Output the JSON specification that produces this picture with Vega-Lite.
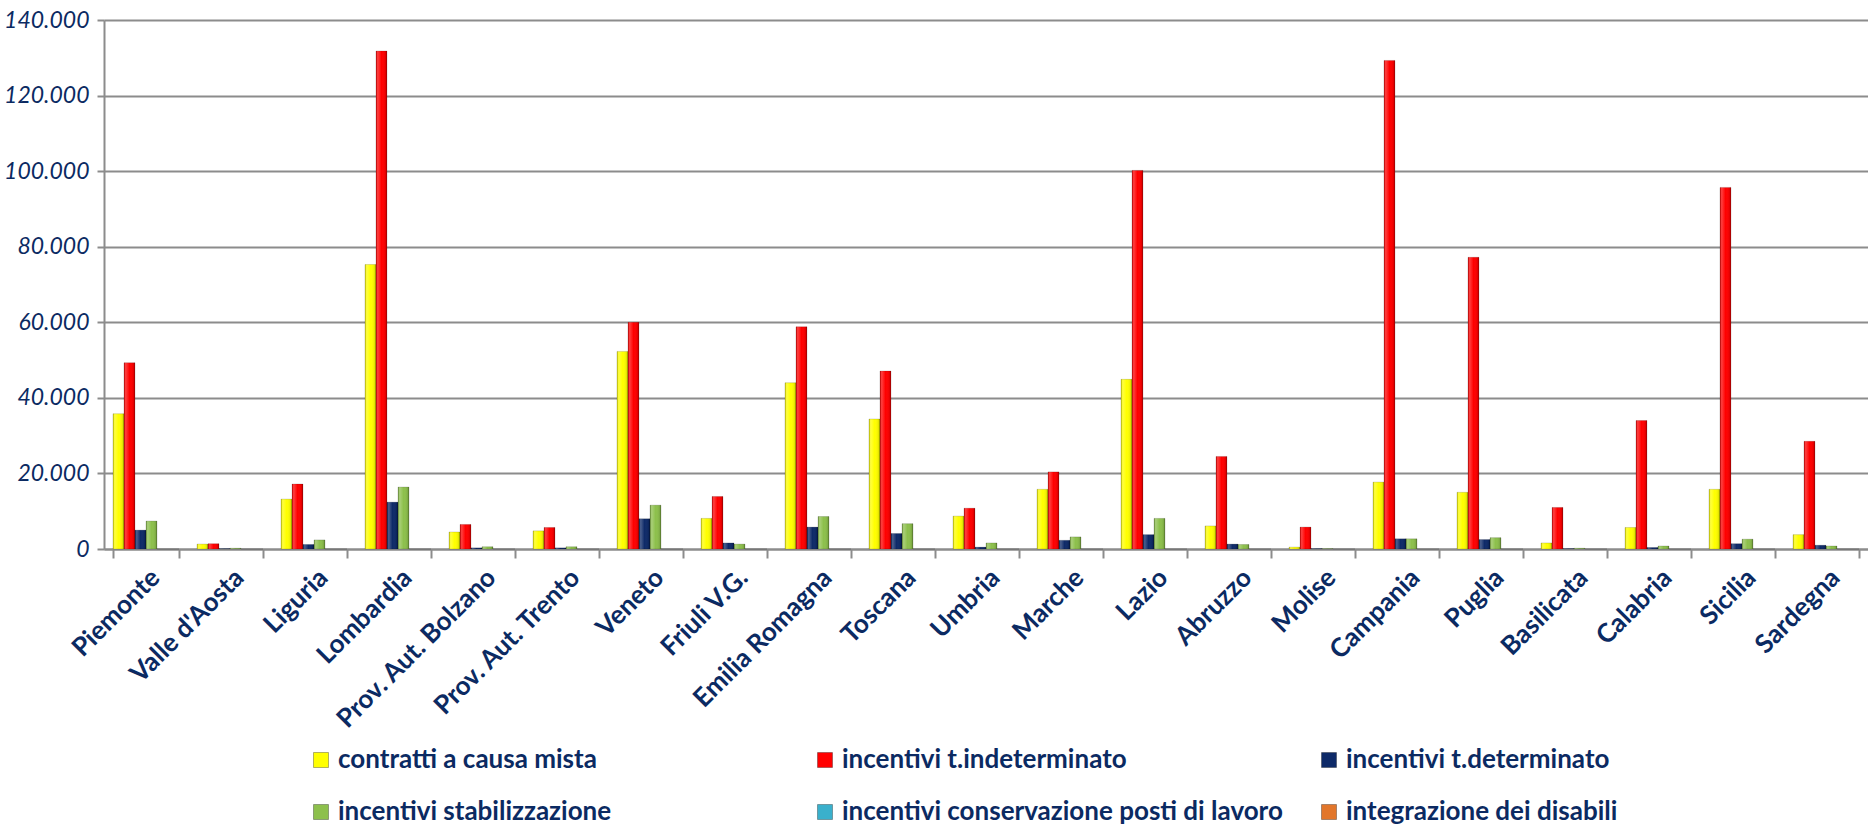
{
  "$schema": "https://vega.github.io/schema/vega-lite/v6.json",
  "width": 1764,
  "height": 529,
  "autosize": {"type": "none"},
  "padding": {"left": 104, "top": 20, "right": 0, "bottom": 278},
  "background": "white",
  "config": {
    "locale": {"number": {"decimal": ",", "thousands": ".", "grouping": [3], "currency": ["€", ""]}},
    "view": {"stroke": null},
    "font": "Lato"
  },
  "data": {"values": [
    {"regione": "Piemonte", "serie": "contratti a causa mista", "valore": 35800},
    {"regione": "Piemonte", "serie": "incentivi t.indeterminato", "valore": 49300},
    {"regione": "Piemonte", "serie": "incentivi t.determinato", "valore": 5000},
    {"regione": "Piemonte", "serie": "incentivi stabilizzazione", "valore": 7400},
    {"regione": "Piemonte", "serie": "incentivi conservazione posti di lavoro", "valore": 0},
    {"regione": "Piemonte", "serie": "integrazione dei disabili", "valore": 0},
    {"regione": "Valle d'Aosta", "serie": "contratti a causa mista", "valore": 1300},
    {"regione": "Valle d'Aosta", "serie": "incentivi t.indeterminato", "valore": 1400},
    {"regione": "Valle d'Aosta", "serie": "incentivi t.determinato", "valore": 100},
    {"regione": "Valle d'Aosta", "serie": "incentivi stabilizzazione", "valore": 200},
    {"regione": "Valle d'Aosta", "serie": "incentivi conservazione posti di lavoro", "valore": 0},
    {"regione": "Valle d'Aosta", "serie": "integrazione dei disabili", "valore": 0},
    {"regione": "Liguria", "serie": "contratti a causa mista", "valore": 13200},
    {"regione": "Liguria", "serie": "incentivi t.indeterminato", "valore": 17200},
    {"regione": "Liguria", "serie": "incentivi t.determinato", "valore": 1200},
    {"regione": "Liguria", "serie": "incentivi stabilizzazione", "valore": 2400},
    {"regione": "Liguria", "serie": "incentivi conservazione posti di lavoro", "valore": 0},
    {"regione": "Liguria", "serie": "integrazione dei disabili", "valore": 0},
    {"regione": "Lombardia", "serie": "contratti a causa mista", "valore": 75300},
    {"regione": "Lombardia", "serie": "incentivi t.indeterminato", "valore": 131800},
    {"regione": "Lombardia", "serie": "incentivi t.determinato", "valore": 12400},
    {"regione": "Lombardia", "serie": "incentivi stabilizzazione", "valore": 16400},
    {"regione": "Lombardia", "serie": "incentivi conservazione posti di lavoro", "valore": 0},
    {"regione": "Lombardia", "serie": "integrazione dei disabili", "valore": 0},
    {"regione": "Prov. Aut. Bolzano", "serie": "contratti a causa mista", "valore": 4500},
    {"regione": "Prov. Aut. Bolzano", "serie": "incentivi t.indeterminato", "valore": 6500},
    {"regione": "Prov. Aut. Bolzano", "serie": "incentivi t.determinato", "valore": 300},
    {"regione": "Prov. Aut. Bolzano", "serie": "incentivi stabilizzazione", "valore": 600},
    {"regione": "Prov. Aut. Bolzano", "serie": "incentivi conservazione posti di lavoro", "valore": 0},
    {"regione": "Prov. Aut. Bolzano", "serie": "integrazione dei disabili", "valore": 0},
    {"regione": "Prov. Aut. Trento", "serie": "contratti a causa mista", "valore": 4800},
    {"regione": "Prov. Aut. Trento", "serie": "incentivi t.indeterminato", "valore": 5700},
    {"regione": "Prov. Aut. Trento", "serie": "incentivi t.determinato", "valore": 300},
    {"regione": "Prov. Aut. Trento", "serie": "incentivi stabilizzazione", "valore": 600},
    {"regione": "Prov. Aut. Trento", "serie": "incentivi conservazione posti di lavoro", "valore": 0},
    {"regione": "Prov. Aut. Trento", "serie": "integrazione dei disabili", "valore": 0},
    {"regione": "Veneto", "serie": "contratti a causa mista", "valore": 52300},
    {"regione": "Veneto", "serie": "incentivi t.indeterminato", "valore": 60000},
    {"regione": "Veneto", "serie": "incentivi t.determinato", "valore": 8000},
    {"regione": "Veneto", "serie": "incentivi stabilizzazione", "valore": 11600},
    {"regione": "Veneto", "serie": "incentivi conservazione posti di lavoro", "valore": 0},
    {"regione": "Veneto", "serie": "integrazione dei disabili", "valore": 0},
    {"regione": "Friuli V.G.", "serie": "contratti a causa mista", "valore": 8100},
    {"regione": "Friuli V.G.", "serie": "incentivi t.indeterminato", "valore": 13900},
    {"regione": "Friuli V.G.", "serie": "incentivi t.determinato", "valore": 1600},
    {"regione": "Friuli V.G.", "serie": "incentivi stabilizzazione", "valore": 1300},
    {"regione": "Friuli V.G.", "serie": "incentivi conservazione posti di lavoro", "valore": 0},
    {"regione": "Friuli V.G.", "serie": "integrazione dei disabili", "valore": 0},
    {"regione": "Emilia Romagna", "serie": "contratti a causa mista", "valore": 44000},
    {"regione": "Emilia Romagna", "serie": "incentivi t.indeterminato", "valore": 58800},
    {"regione": "Emilia Romagna", "serie": "incentivi t.determinato", "valore": 5800},
    {"regione": "Emilia Romagna", "serie": "incentivi stabilizzazione", "valore": 8600},
    {"regione": "Emilia Romagna", "serie": "incentivi conservazione posti di lavoro", "valore": 0},
    {"regione": "Emilia Romagna", "serie": "integrazione dei disabili", "valore": 0},
    {"regione": "Toscana", "serie": "contratti a causa mista", "valore": 34400},
    {"regione": "Toscana", "serie": "incentivi t.indeterminato", "valore": 47100},
    {"regione": "Toscana", "serie": "incentivi t.determinato", "valore": 4100},
    {"regione": "Toscana", "serie": "incentivi stabilizzazione", "valore": 6700},
    {"regione": "Toscana", "serie": "incentivi conservazione posti di lavoro", "valore": 0},
    {"regione": "Toscana", "serie": "integrazione dei disabili", "valore": 0},
    {"regione": "Umbria", "serie": "contratti a causa mista", "valore": 8700},
    {"regione": "Umbria", "serie": "incentivi t.indeterminato", "valore": 10800},
    {"regione": "Umbria", "serie": "incentivi t.determinato", "valore": 500},
    {"regione": "Umbria", "serie": "incentivi stabilizzazione", "valore": 1600},
    {"regione": "Umbria", "serie": "incentivi conservazione posti di lavoro", "valore": 0},
    {"regione": "Umbria", "serie": "integrazione dei disabili", "valore": 0},
    {"regione": "Marche", "serie": "contratti a causa mista", "valore": 15800},
    {"regione": "Marche", "serie": "incentivi t.indeterminato", "valore": 20400},
    {"regione": "Marche", "serie": "incentivi t.determinato", "valore": 2300},
    {"regione": "Marche", "serie": "incentivi stabilizzazione", "valore": 3200},
    {"regione": "Marche", "serie": "incentivi conservazione posti di lavoro", "valore": 0},
    {"regione": "Marche", "serie": "integrazione dei disabili", "valore": 0},
    {"regione": "Lazio", "serie": "contratti a causa mista", "valore": 44900},
    {"regione": "Lazio", "serie": "incentivi t.indeterminato", "valore": 100200},
    {"regione": "Lazio", "serie": "incentivi t.determinato", "valore": 3800},
    {"regione": "Lazio", "serie": "incentivi stabilizzazione", "valore": 8100},
    {"regione": "Lazio", "serie": "incentivi conservazione posti di lavoro", "valore": 0},
    {"regione": "Lazio", "serie": "integrazione dei disabili", "valore": 0},
    {"regione": "Abruzzo", "serie": "contratti a causa mista", "valore": 6100},
    {"regione": "Abruzzo", "serie": "incentivi t.indeterminato", "valore": 24500},
    {"regione": "Abruzzo", "serie": "incentivi t.determinato", "valore": 1300},
    {"regione": "Abruzzo", "serie": "incentivi stabilizzazione", "valore": 1200},
    {"regione": "Abruzzo", "serie": "incentivi conservazione posti di lavoro", "valore": 0},
    {"regione": "Abruzzo", "serie": "integrazione dei disabili", "valore": 0},
    {"regione": "Molise", "serie": "contratti a causa mista", "valore": 500},
    {"regione": "Molise", "serie": "incentivi t.indeterminato", "valore": 5800},
    {"regione": "Molise", "serie": "incentivi t.determinato", "valore": 100},
    {"regione": "Molise", "serie": "incentivi stabilizzazione", "valore": 100},
    {"regione": "Molise", "serie": "incentivi conservazione posti di lavoro", "valore": 0},
    {"regione": "Molise", "serie": "integrazione dei disabili", "valore": 0},
    {"regione": "Campania", "serie": "contratti a causa mista", "valore": 17700},
    {"regione": "Campania", "serie": "incentivi t.indeterminato", "valore": 129300},
    {"regione": "Campania", "serie": "incentivi t.determinato", "valore": 2700},
    {"regione": "Campania", "serie": "incentivi stabilizzazione", "valore": 2700},
    {"regione": "Campania", "serie": "incentivi conservazione posti di lavoro", "valore": 0},
    {"regione": "Campania", "serie": "integrazione dei disabili", "valore": 0},
    {"regione": "Puglia", "serie": "contratti a causa mista", "valore": 15000},
    {"regione": "Puglia", "serie": "incentivi t.indeterminato", "valore": 77200},
    {"regione": "Puglia", "serie": "incentivi t.determinato", "valore": 2500},
    {"regione": "Puglia", "serie": "incentivi stabilizzazione", "valore": 3000},
    {"regione": "Puglia", "serie": "incentivi conservazione posti di lavoro", "valore": 0},
    {"regione": "Puglia", "serie": "integrazione dei disabili", "valore": 0},
    {"regione": "Basilicata", "serie": "contratti a causa mista", "valore": 1600},
    {"regione": "Basilicata", "serie": "incentivi t.indeterminato", "valore": 11000},
    {"regione": "Basilicata", "serie": "incentivi t.determinato", "valore": 100},
    {"regione": "Basilicata", "serie": "incentivi stabilizzazione", "valore": 200},
    {"regione": "Basilicata", "serie": "incentivi conservazione posti di lavoro", "valore": 0},
    {"regione": "Basilicata", "serie": "integrazione dei disabili", "valore": 0},
    {"regione": "Calabria", "serie": "contratti a causa mista", "valore": 5700},
    {"regione": "Calabria", "serie": "incentivi t.indeterminato", "valore": 34000},
    {"regione": "Calabria", "serie": "incentivi t.determinato", "valore": 400},
    {"regione": "Calabria", "serie": "incentivi stabilizzazione", "valore": 800},
    {"regione": "Calabria", "serie": "incentivi conservazione posti di lavoro", "valore": 0},
    {"regione": "Calabria", "serie": "integrazione dei disabili", "valore": 0},
    {"regione": "Sicilia", "serie": "contratti a causa mista", "valore": 15800},
    {"regione": "Sicilia", "serie": "incentivi t.indeterminato", "valore": 95700},
    {"regione": "Sicilia", "serie": "incentivi t.determinato", "valore": 1400},
    {"regione": "Sicilia", "serie": "incentivi stabilizzazione", "valore": 2600},
    {"regione": "Sicilia", "serie": "incentivi conservazione posti di lavoro", "valore": 0},
    {"regione": "Sicilia", "serie": "integrazione dei disabili", "valore": 0},
    {"regione": "Sardegna", "serie": "contratti a causa mista", "valore": 3800},
    {"regione": "Sardegna", "serie": "incentivi t.indeterminato", "valore": 28500},
    {"regione": "Sardegna", "serie": "incentivi t.determinato", "valore": 1000},
    {"regione": "Sardegna", "serie": "incentivi stabilizzazione", "valore": 800},
    {"regione": "Sardegna", "serie": "incentivi conservazione posti di lavoro", "valore": 0},
    {"regione": "Sardegna", "serie": "integrazione dei disabili", "valore": 0}
  ]},
  "encoding": {
    "x": {
      "field": "regione", "type": "nominal", "sort": null, "title": null,
      "scale": {"paddingInner": 0.214, "paddingOuter": 0.107},
      "axis": {
        "labelAngle": -45, "labelFont": "Lato", "labelFontWeight": "bold", "labelFontSize": 26,
        "labelColor": "#0B2A62", "labelPadding": 6, "labelLimit": 400, "labelOverlap": false,
        "domainColor": "#8C8C8C", "domainWidth": 2, "tickColor": "#8C8C8C", "tickWidth": 2,
        "tickSize": 9, "tickBand": "extent", "grid": false
      }
    },
    "xOffset": {
      "field": "serie", "type": "nominal", "sort": null,
      "scale": {"paddingInner": 0, "paddingOuter": 0}
    },
    "y": {
      "field": "valore", "type": "quantitative", "title": null,
      "scale": {"domain": [0, 140000], "nice": false},
      "axis": {
        "values": [0, 20000, 40000, 60000, 80000, 100000, 120000, 140000],
        "format": ",d", "labelFont": "Lato", "labelFontStyle": "italic", "labelFontSize": 23,
        "labelColor": "#0B2A62", "labelPadding": 8,
        "domainColor": "#8C8C8C", "domainWidth": 2, "tickColor": "#8C8C8C", "tickWidth": 2, "tickSize": 7,
        "gridColor": "#8C8C8C", "gridWidth": 2
      }
    }
  },
  "layer": [
    {
      "mark": {"type": "bar", "stroke": "rgba(0,0,0,0.25)", "strokeWidth": 0.6},
      "encoding": {
        "color": {
          "field": "serie", "type": "nominal", "sort": null,
          "scale": {
            "domain": ["contratti a causa mista", "incentivi t.indeterminato", "incentivi t.determinato", "incentivi stabilizzazione", "incentivi conservazione posti di lavoro", "integrazione dei disabili"],
            "range": ["#FFFF00", "#FF0000", "#0E2A68", "#8DC04C", "#3AB0CC", "#E2762B"]
          },
          "legend": {
            "title": null, "orient": "none", "legendX": 204, "legendY": 727,
            "direction": "horizontal", "columns": 3, "gridAlign": "all",
            "columnPadding": 33, "rowPadding": 26,
            "symbolType": "square", "symbolSize": 225, "symbolStrokeWidth": 1, "symbolStrokeColor": "rgba(0,0,0,0.3)",
            "symbolOffset": 0, "labelOffset": 4,
            "labelFont": "Lato", "labelFontWeight": "bold", "labelFontSize": 26, "labelColor": "#0B2A62",
            "labelLimit": 700
          }
        }
      }
    },
    {
      "mark": {
        "type": "bar",
        "fill": {
          "gradient": "linear", "x1": 0, "x2": 1, "y1": 0, "y2": 0,
          "stops": [
            {"offset": 0, "color": "rgba(0,0,0,0.25)"},
            {"offset": 0.15, "color": "rgba(255,255,255,0.25)"},
            {"offset": 0.5, "color": "rgba(255,255,255,0)"},
            {"offset": 0.85, "color": "rgba(0,0,0,0.08)"},
            {"offset": 1, "color": "rgba(0,0,0,0.35)"}
          ]
        }
      }
    }
  ]
}
